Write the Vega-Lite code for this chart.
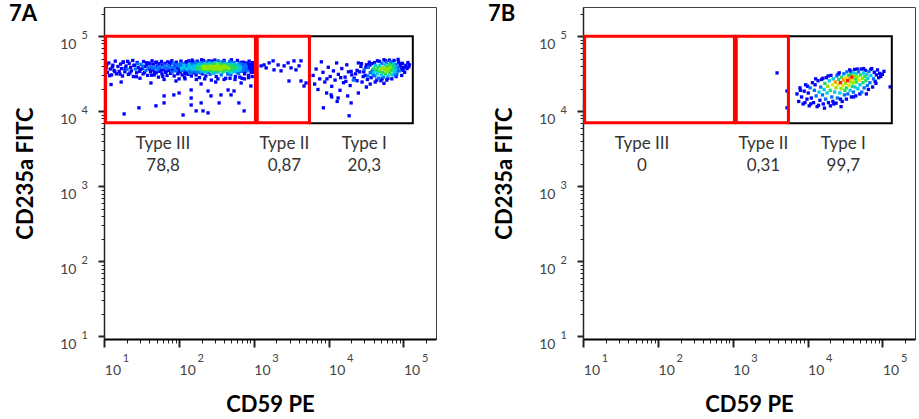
{
"$schema": "https://vega.github.io/schema/vega-lite/v6.json",
"padding": {"left": 8, "top": 2, "right": 4, "bottom": 0},
"background": "white",
"config": {
  "font": "Lato",
  "view": {"stroke": "#444", "strokeWidth": 1},
  "concat": {"spacing": 50},
  "axis": {"grid": false, "labelFont": "Lato", "titleFont": "Lato"}
},
"datasets": {
"gates": [
{"g":"Type III","x":10.4,"xe":1050,"y":7000,"ye":100000},
{"g":"Type II","x":1110,"xe":5530,"y":7000,"ye":100000},
{"g":"Type I","x":5530,"xe":133700,"y":6900,"ye":100000}
],
"labels": [
{"p":"A","t":"Type III\n78,8","x":61,"y":3170},
{"p":"A","t":"Type II\n0,87","x":2560,"y":3170},
{"p":"A","t":"Type I\n20,3","x":30000,"y":3170},
{"p":"B","t":"Type III\n0","x":61,"y":3170},
{"p":"B","t":"Type II\n0,31","x":2560,"y":3170},
{"p":"B","t":"Type I\n99,7","x":30000,"y":3170}
],
"pts": [
{"p":"A","x":10.6,"y":38000,"d":0},{"p":"A","x":11,"y":33000,"d":0},{"p":"A","x":11.5,"y":44000,"d":0},{"p":"A","x":12,"y":36500,"d":0},{"p":"A","x":12.5,"y":30500,"d":0},{"p":"A","x":13,"y":41000,"d":0},{"p":"A","x":13.5,"y":35000,"d":0},{"p":"A","x":14,"y":46500,"d":0},{"p":"A","x":14.5,"y":31500,"d":0},
{"p":"A","x":15.2,"y":39500,"d":0},{"p":"A","x":15.8,"y":34000,"d":0},{"p":"A","x":16.5,"y":42500,"d":0},{"p":"A","x":17,"y":37000,"d":0},{"p":"A","x":17.5,"y":29500,"d":0},{"p":"A","x":18,"y":45500,"d":0},{"p":"A","x":18.8,"y":33500,"d":0},{"p":"A","x":19.5,"y":40000,"d":0},{"p":"A","x":20.2,"y":36000,"d":1},{"p":"A","x":21,"y":31000,"d":0},{"p":"A","x":21.5,"y":43500,"d":0},{"p":"A","x":22.5,"y":38500,"d":0},{"p":"A","x":23,"y":34500,"d":0},{"p":"A","x":24,"y":47500,"d":0},{"p":"A","x":24.5,"y":29000,"d":0},
{"p":"A","x":25.5,"y":41000,"d":0},{"p":"A","x":26,"y":36500,"d":1},{"p":"A","x":27,"y":32500,"d":0},{"p":"A","x":27.5,"y":44500,"d":0},{"p":"A","x":28.5,"y":38000,"d":0},{"p":"A","x":29.5,"y":34000,"d":0},{"p":"A","x":30,"y":27500,"d":0},{"p":"A","x":31,"y":42000,"d":1},{"p":"A","x":32,"y":37000,"d":0},{"p":"A","x":33,"y":31500,"d":0},{"p":"A","x":33.5,"y":46000,"d":0},{"p":"A","x":35,"y":39500,"d":0},{"p":"A","x":36,"y":35000,"d":1},{"p":"A","x":37,"y":41500,"d":0},{"p":"A","x":38,"y":30000,"d":0},{"p":"A","x":39,"y":44000,"d":0},{"p":"A","x":40,"y":36500,"d":0},
{"p":"A","x":41.5,"y":33500,"d":0},{"p":"A","x":42.5,"y":39000,"d":1},{"p":"A","x":43.5,"y":47000,"d":0},{"p":"A","x":44.5,"y":35500,"d":0},{"p":"A","x":45.5,"y":42500,"d":0},{"p":"A","x":46.5,"y":30500,"d":0},{"p":"A","x":47.5,"y":37500,"d":1},{"p":"A","x":48.5,"y":44500,"d":0},{"p":"A","x":49.5,"y":32500,"d":0},{"p":"A","x":51,"y":40000,"d":0},{"p":"A","x":52,"y":36000,"d":1},{"p":"A","x":53,"y":28500,"d":0},{"p":"A","x":54,"y":43000,"d":0},{"p":"A","x":55,"y":34000,"d":0},{"p":"A","x":56.5,"y":38500,"d":1},{"p":"A","x":58,"y":46000,"d":0},{"p":"A","x":59,"y":31500,"d":0},{"p":"A","x":60,"y":41500,"d":0},{"p":"A","x":61.5,"y":35500,"d":0},{"p":"A","x":63,"y":39500,"d":1},{"p":"A","x":63,"y":26500,"d":0},
{"p":"A","x":65,"y":43500,"d":0},{"p":"A","x":66,"y":33000,"d":0},{"p":"A","x":67.5,"y":37000,"d":1},{"p":"A","x":69,"y":30000,"d":0},{"p":"A","x":70.5,"y":45500,"d":0},{"p":"A","x":72,"y":40500,"d":1},{"p":"A","x":73.5,"y":35000,"d":0},{"p":"A","x":75,"y":42000,"d":0},{"p":"A","x":77,"y":32000,"d":0},{"p":"A","x":78.5,"y":38500,"d":1},{"p":"A","x":80,"y":47000,"d":0},{"p":"A","x":82,"y":36000,"d":0},{"p":"A","x":84,"y":43500,"d":1},{"p":"A","x":86,"y":29500,"d":0},{"p":"A","x":88,"y":40000,"d":0},{"p":"A","x":90,"y":34500,"d":1},{"p":"A","x":92,"y":45000,"d":0},{"p":"A","x":94,"y":37500,"d":0},{"p":"A","x":96,"y":31500,"d":0},{"p":"A","x":98,"y":42000,"d":1},{"p":"A","x":100,"y":36000,"d":0},{"p":"A","x":100,"y":27000,"d":0},
{"p":"A","x":102,"y":39500,"d":1},{"p":"A","x":104,"y":33500,"d":0},{"p":"A","x":106,"y":46500,"d":0},{"p":"A","x":108,"y":37000,"d":2},{"p":"A","x":110,"y":30500,"d":0},{"p":"A","x":112,"y":43000,"d":1},{"p":"A","x":114,"y":35500,"d":1},{"p":"A","x":116,"y":41000,"d":2},{"p":"A","x":118,"y":28500,"d":0},{"p":"A","x":120,"y":38000,"d":1},{"p":"A","x":123,"y":44500,"d":0},{"p":"A","x":125,"y":33000,"d":0},{"p":"A","x":127,"y":36500,"d":2},{"p":"A","x":130,"y":40500,"d":1},{"p":"A","x":132,"y":31000,"d":0},{"p":"A","x":135,"y":47000,"d":0},{"p":"A","x":137,"y":38500,"d":2},{"p":"A","x":140,"y":34500,"d":1},{"p":"A","x":143,"y":42500,"d":1},{"p":"A","x":146,"y":29500,"d":0},{"p":"A","x":149,"y":37000,"d":2},{"p":"A","x":152,"y":45000,"d":0},{"p":"A","x":155,"y":32500,"d":0},{"p":"A","x":158,"y":40000,"d":2},{"p":"A","x":160,"y":35500,"d":1},
{"p":"A","x":163,"y":43000,"d":1},{"p":"A","x":166,"y":38500,"d":2},{"p":"A","x":169,"y":30500,"d":0},{"p":"A","x":172,"y":36500,"d":3},{"p":"A","x":175,"y":46500,"d":0},{"p":"A","x":178,"y":41000,"d":2},{"p":"A","x":181,"y":33500,"d":1},{"p":"A","x":184,"y":39000,"d":3},{"p":"A","x":187,"y":28000,"d":0},{"p":"A","x":190,"y":44000,"d":1},{"p":"A","x":194,"y":35500,"d":2},{"p":"A","x":197,"y":37500,"d":3},{"p":"A","x":200,"y":41500,"d":2},{"p":"A","x":204,"y":31500,"d":0},{"p":"A","x":208,"y":39500,"d":4},{"p":"A","x":212,"y":47500,"d":0},{"p":"A","x":216,"y":34500,"d":2},{"p":"A","x":220,"y":42500,"d":2},{"p":"A","x":224,"y":37000,"d":4},{"p":"A","x":228,"y":29500,"d":0},{"p":"A","x":232,"y":40500,"d":3},{"p":"A","x":236,"y":45500,"d":1},{"p":"A","x":240,"y":36000,"d":3},{"p":"A","x":245,"y":33000,"d":1},{"p":"A","x":250,"y":38500,"d":4},{"p":"A","x":255,"y":43500,"d":2},{"p":"A","x":260,"y":31000,"d":1},
{"p":"A","x":265,"y":40000,"d":4},{"p":"A","x":270,"y":35000,"d":3},{"p":"A","x":275,"y":46500,"d":0},{"p":"A","x":280,"y":37500,"d":4},{"p":"A","x":285,"y":42500,"d":3},{"p":"A","x":290,"y":32500,"d":1},{"p":"A","x":296,"y":39000,"d":4},{"p":"A","x":302,"y":44500,"d":2},{"p":"A","x":308,"y":35500,"d":3},{"p":"A","x":314,"y":29000,"d":0},{"p":"A","x":320,"y":41000,"d":4},{"p":"A","x":326,"y":37000,"d":4},{"p":"A","x":332,"y":47000,"d":1},{"p":"A","x":338,"y":33500,"d":2},{"p":"A","x":345,"y":39500,"d":4},{"p":"A","x":352,"y":43500,"d":3},{"p":"A","x":359,"y":36000,"d":4},{"p":"A","x":366,"y":30500,"d":1},{"p":"A","x":373,"y":41500,"d":3},{"p":"A","x":380,"y":38000,"d":4},{"p":"A","x":388,"y":45500,"d":1},{"p":"A","x":396,"y":34000,"d":3},{"p":"A","x":404,"y":40000,"d":4},{"p":"A","x":412,"y":36500,"d":3},{"p":"A","x":420,"y":27500,"d":0},{"p":"A","x":428,"y":43000,"d":2},{"p":"A","x":437,"y":38500,"d":4},{"p":"A","x":446,"y":32000,"d":1},
{"p":"A","x":455,"y":41500,"d":3},{"p":"A","x":464,"y":35000,"d":3},{"p":"A","x":473,"y":46000,"d":1},{"p":"A","x":483,"y":38000,"d":3},{"p":"A","x":493,"y":30500,"d":1},{"p":"A","x":503,"y":42500,"d":2},{"p":"A","x":513,"y":36000,"d":3},{"p":"A","x":523,"y":40000,"d":3},{"p":"A","x":534,"y":33500,"d":2},{"p":"A","x":545,"y":44500,"d":1},{"p":"A","x":556,"y":37500,"d":3},{"p":"A","x":567,"y":29000,"d":0},{"p":"A","x":579,"y":41000,"d":2},{"p":"A","x":591,"y":35000,"d":2},{"p":"A","x":603,"y":47500,"d":0},{"p":"A","x":615,"y":38500,"d":2},{"p":"A","x":627,"y":32000,"d":1},{"p":"A","x":640,"y":43000,"d":1},{"p":"A","x":653,"y":36500,"d":2},{"p":"A","x":666,"y":40500,"d":1},{"p":"A","x":680,"y":34000,"d":1},{"p":"A","x":694,"y":27500,"d":0},
{"p":"A","x":708,"y":39000,"d":1},{"p":"A","x":722,"y":45000,"d":0},{"p":"A","x":737,"y":36000,"d":1},{"p":"A","x":752,"y":31500,"d":0},{"p":"A","x":767,"y":41500,"d":1},{"p":"A","x":783,"y":37500,"d":0},{"p":"A","x":799,"y":44000,"d":0},{"p":"A","x":815,"y":34500,"d":1},{"p":"A","x":832,"y":39500,"d":0},{"p":"A","x":849,"y":30000,"d":0},{"p":"A","x":866,"y":46500,"d":0},{"p":"A","x":884,"y":37000,"d":0},{"p":"A","x":902,"y":42000,"d":0},{"p":"A","x":920,"y":33000,"d":0},{"p":"A","x":939,"y":38500,"d":0},{"p":"A","x":958,"y":44500,"d":0},{"p":"A","x":978,"y":35500,"d":0},{"p":"A","x":998,"y":40500,"d":0},{"p":"A","x":1018,"y":37500,"d":0},{"p":"A","x":1035,"y":43000,"d":0},
{"p":"A","x":111,"y":40000,"d":1},{"p":"A","x":119,"y":34000,"d":0},{"p":"A","x":128,"y":42000,"d":0},{"p":"A","x":138,"y":32500,"d":1},{"p":"A","x":147,"y":44000,"d":0},{"p":"A","x":156,"y":38000,"d":1},{"p":"A","x":165,"y":34000,"d":1},{"p":"A","x":174,"y":40000,"d":2},{"p":"A","x":183,"y":42500,"d":1},{"p":"A","x":192,"y":32500,"d":1},{"p":"A","x":201,"y":38500,"d":3},{"p":"A","x":210,"y":36000,"d":3},{"p":"A","x":219,"y":39500,"d":4},{"p":"A","x":229,"y":33500,"d":2},{"p":"A","x":238,"y":41500,"d":3},{"p":"A","x":248,"y":35500,"d":3},{"p":"A","x":258,"y":37500,"d":4},{"p":"A","x":268,"y":42500,"d":2},{"p":"A","x":278,"y":34000,"d":3},{"p":"A","x":288,"y":39000,"d":4},{"p":"A","x":298,"y":36000,"d":4},{"p":"A","x":311,"y":41500,"d":3},{"p":"A","x":323,"y":34500,"d":3},{"p":"A","x":336,"y":38000,"d":4},{"p":"A","x":349,"y":42000,"d":2},{"p":"A","x":362,"y":39000,"d":4},{"p":"A","x":376,"y":35000,"d":3},{"p":"A","x":391,"y":37500,"d":4},{"p":"A","x":407,"y":42500,"d":2},{"p":"A","x":423,"y":35500,"d":3},{"p":"A","x":441,"y":40500,"d":3},{"p":"A","x":459,"y":37500,"d":4},{"p":"A","x":478,"y":33000,"d":2},{"p":"A","x":498,"y":39500,"d":3},{"p":"A","x":518,"y":44000,"d":1},{"p":"A","x":540,"y":38500,"d":3},{"p":"A","x":562,"y":34000,"d":2},{"p":"A","x":585,"y":38000,"d":3},{"p":"A","x":610,"y":41500,"d":2},{"p":"A","x":635,"y":35500,"d":2},{"p":"A","x":660,"y":38500,"d":2},{"p":"A","x":688,"y":42000,"d":1},{"p":"A","x":715,"y":35000,"d":1},{"p":"A","x":745,"y":38500,"d":1},{"p":"A","x":775,"y":34500,"d":0},{"p":"A","x":805,"y":41000,"d":0},{"p":"A","x":840,"y":36000,"d":0},{"p":"A","x":875,"y":40000,"d":0},{"p":"A","x":910,"y":36500,"d":0},{"p":"A","x":950,"y":39000,"d":0},{"p":"A","x":990,"y":33000,"d":0},
{"p":"A","x":10.8,"y":42000,"d":0},{"p":"A","x":11.8,"y":29800,"d":0},{"p":"A","x":12.8,"y":38800,"d":0},{"p":"A","x":13.8,"y":33800,"d":0},{"p":"A","x":16.2,"y":31200,"d":0},{"p":"A","x":17.8,"y":44800,"d":0},{"p":"A","x":19,"y":37200,"d":0},{"p":"A","x":20.5,"y":46200,"d":0},{"p":"A","x":22,"y":32200,"d":0},{"p":"A","x":24.8,"y":40800,"d":0},{"p":"A","x":26.8,"y":28800,"d":0},{"p":"A","x":28,"y":42800,"d":1},{"p":"A","x":30.5,"y":35800,"d":0},{"p":"A","x":32.5,"y":39800,"d":1},{"p":"A","x":34.5,"y":32800,"d":0},{"p":"A","x":36.5,"y":44200,"d":0},{"p":"A","x":38.5,"y":38200,"d":1},{"p":"A","x":41,"y":42800,"d":0},{"p":"A","x":43,"y":30200,"d":0},{"p":"A","x":45,"y":37800,"d":1},{"p":"A","x":47,"y":33200,"d":0},{"p":"A","x":50,"y":45200,"d":0},{"p":"A","x":53.5,"y":39200,"d":1},{"p":"A","x":57,"y":35200,"d":0},{"p":"A","x":60.5,"y":29200,"d":0},{"p":"A","x":64,"y":41200,"d":1},{"p":"A","x":68,"y":34200,"d":0},{"p":"A","x":71,"y":38200,"d":1},{"p":"A","x":76,"y":44200,"d":0},{"p":"A","x":81,"y":33200,"d":1},{"p":"A","x":87,"y":37800,"d":1},{"p":"A","x":93,"y":41200,"d":1},{"p":"A","x":99,"y":32800,"d":0},{"p":"A","x":105,"y":42200,"d":1},{"p":"A","x":109,"y":34800,"d":1},{"p":"A","x":115,"y":38200,"d":2},{"p":"A","x":121,"y":31800,"d":0},{"p":"A","x":126,"y":45800,"d":0},{"p":"A","x":131,"y":35200,"d":1},{"p":"A","x":136,"y":41800,"d":2},{"p":"A","x":142,"y":37800,"d":2},{"p":"A","x":148,"y":33200,"d":1},{"p":"A","x":154,"y":42200,"d":1},{"p":"A","x":159,"y":36800,"d":2},{"p":"A","x":167,"y":45200,"d":1},{"p":"A","x":173,"y":33200,"d":1},{"p":"A","x":179,"y":37800,"d":3},{"p":"A","x":186,"y":42200,"d":2},{"p":"A","x":193,"y":38800,"d":3},{"p":"A","x":199,"y":34200,"d":2},{"p":"A","x":206,"y":44200,"d":1},{"p":"A","x":213,"y":37200,"d":4},{"p":"A","x":221,"y":33200,"d":2},{"p":"A","x":227,"y":40800,"d":3},{"p":"A","x":234,"y":36800,"d":4},{"p":"A","x":242,"y":39200,"d":4},{"p":"A","x":252,"y":35200,"d":3},{"p":"A","x":262,"y":44200,"d":1},{"p":"A","x":272,"y":38800,"d":4},{"p":"A","x":283,"y":32200,"d":2},{"p":"A","x":293,"y":41800,"d":3},{"p":"A","x":304,"y":37800,"d":4},{"p":"A","x":317,"y":33200,"d":2},{"p":"A","x":330,"y":40800,"d":4},{"p":"A","x":343,"y":36800,"d":4},{"p":"A","x":356,"y":45200,"d":1},{"p":"A","x":369,"y":37800,"d":4},{"p":"A","x":384,"y":33200,"d":2},{"p":"A","x":400,"y":38800,"d":4},{"p":"A","x":416,"y":41200,"d":3},{"p":"A","x":433,"y":36200,"d":3},{"p":"A","x":451,"y":31200,"d":1},{"p":"A","x":469,"y":39800,"d":3},{"p":"A","x":488,"y":43800,"d":1},{"p":"A","x":508,"y":35200,"d":2},{"p":"A","x":528,"y":38200,"d":3},{"p":"A","x":550,"y":41800,"d":2},{"p":"A","x":572,"y":36800,"d":2},{"p":"A","x":597,"y":32800,"d":1},{"p":"A","x":622,"y":39800,"d":2},{"p":"A","x":648,"y":34800,"d":1},{"p":"A","x":675,"y":44800,"d":0},{"p":"A","x":702,"y":37800,"d":1},{"p":"A","x":730,"y":41800,"d":0},{"p":"A","x":760,"y":33800,"d":0},{"p":"A","x":790,"y":38800,"d":1},{"p":"A","x":822,"y":42800,"d":0},{"p":"A","x":856,"y":36200,"d":0},{"p":"A","x":892,"y":39200,"d":0},{"p":"A","x":930,"y":34200,"d":0},{"p":"A","x":970,"y":41200,"d":0},{"p":"A","x":1010,"y":35800,"d":0},
{"p":"A","x":150,"y":48000,"d":0},{"p":"A","x":200,"y":48500,"d":0},{"p":"A","x":250,"y":47000,"d":0},{"p":"A","x":300,"y":48000,"d":0},{"p":"A","x":400,"y":47500,"d":0},{"p":"A","x":500,"y":48500,"d":0},{"p":"A","x":120,"y":27000,"d":0},{"p":"A","x":170,"y":26500,"d":0},{"p":"A","x":220,"y":27000,"d":0},{"p":"A","x":270,"y":26000,"d":0},{"p":"A","x":330,"y":27000,"d":0},{"p":"A","x":400,"y":26500,"d":0},{"p":"A","x":480,"y":27500,"d":0},{"p":"A","x":560,"y":26500,"d":0},{"p":"A","x":650,"y":28500,"d":0},{"p":"A","x":750,"y":27000,"d":0},{"p":"A","x":850,"y":28000,"d":0},{"p":"A","x":950,"y":29000,"d":0},
{"p":"A","x":12.3,"y":22700,"d":0},{"p":"A","x":18.4,"y":9200,"d":0},{"p":"A","x":29,"y":11100,"d":0},{"p":"A","x":49,"y":11800,"d":0},{"p":"A","x":63,"y":16000,"d":0},{"p":"A","x":63,"y":12900,"d":0},{"p":"A","x":85,"y":16500,"d":0},{"p":"A","x":100,"y":17500,"d":0},{"p":"A","x":113,"y":8900,"d":0},{"p":"A","x":145,"y":15000,"d":0},{"p":"A","x":145,"y":12100,"d":0},{"p":"A","x":169,"y":10100,"d":0},{"p":"A","x":197,"y":12900,"d":0},{"p":"A","x":209,"y":10100,"d":0},{"p":"A","x":244,"y":9500,"d":0},{"p":"A","x":267,"y":16000,"d":0},{"p":"A","x":343,"y":12900,"d":0},{"p":"A","x":363,"y":16500,"d":0},{"p":"A","x":495,"y":16500,"d":0},{"p":"A","x":631,"y":12900,"d":0},{"p":"A","x":741,"y":10100,"d":0},{"p":"A","x":145,"y":19200,"d":0},{"p":"A","x":244,"y":18600,"d":0},{"p":"A","x":452,"y":19200,"d":0},{"p":"A","x":543,"y":18600,"d":0},{"p":"A","x":16.8,"y":24500,"d":0},{"p":"A","x":42,"y":23800,"d":0},{"p":"A","x":91,"y":25300,"d":0},{"p":"A","x":197,"y":23100,"d":0},{"p":"A","x":309,"y":24500,"d":0},{"p":"A","x":676,"y":23800,"d":0},{"p":"A","x":912,"y":21700,"d":0},
{"p":"A","x":1250,"y":40200,"d":0},{"p":"A","x":1460,"y":37800,"d":0},{"p":"A","x":1600,"y":44100,"d":0},{"p":"A","x":1810,"y":46900,"d":0},{"p":"A","x":1860,"y":35600,"d":0},{"p":"A","x":2110,"y":41400,"d":0},{"p":"A","x":2310,"y":34500,"d":0},{"p":"A","x":2870,"y":44100,"d":0},{"p":"A","x":2950,"y":25300,"d":0},{"p":"A","x":3140,"y":37800,"d":0},{"p":"A","x":3440,"y":46900,"d":0},{"p":"A","x":4020,"y":40200,"d":0},{"p":"A","x":4270,"y":46900,"d":0},{"p":"A","x":4270,"y":25300,"d":0},{"p":"A","x":4690,"y":21700,"d":0},{"p":"A","x":4990,"y":23800,"d":0},{"p":"A","x":1370,"y":41400,"d":0},{"p":"A","x":2540,"y":40200,"d":0},{"p":"A","x":3660,"y":35600,"d":0},
{"p":"A","x":40000,"y":33000,"d":2},{"p":"A","x":40500,"y":37500,"d":3},{"p":"A","x":41500,"y":29500,"d":1},{"p":"A","x":42500,"y":41000,"d":2},{"p":"A","x":43500,"y":35000,"d":3},{"p":"A","x":44500,"y":31500,"d":2},{"p":"A","x":45500,"y":38500,"d":3},{"p":"A","x":46500,"y":27500,"d":1},{"p":"A","x":47500,"y":34000,"d":3},{"p":"A","x":48500,"y":40500,"d":2},{"p":"A","x":49500,"y":36500,"d":4},{"p":"A","x":50500,"y":30500,"d":2},{"p":"A","x":51500,"y":43500,"d":1},{"p":"A","x":52500,"y":33000,"d":3},{"p":"A","x":53500,"y":38000,"d":4},{"p":"A","x":54500,"y":28500,"d":1},{"p":"A","x":55500,"y":35500,"d":4},{"p":"A","x":56500,"y":41500,"d":2},{"p":"A","x":57500,"y":31500,"d":3},{"p":"A","x":58500,"y":37000,"d":4},{"p":"A","x":59500,"y":44500,"d":1},{"p":"A","x":60500,"y":34000,"d":4},{"p":"A","x":61500,"y":39500,"d":3},{"p":"A","x":62500,"y":29500,"d":2},{"p":"A","x":63500,"y":36000,"d":4},{"p":"A","x":64500,"y":42000,"d":3},{"p":"A","x":65500,"y":32500,"d":3},{"p":"A","x":66500,"y":38500,"d":4},{"p":"A","x":67500,"y":45500,"d":1},{"p":"A","x":68500,"y":35000,"d":3},{"p":"A","x":69500,"y":40500,"d":3},{"p":"A","x":70500,"y":30500,"d":2},{"p":"A","x":72000,"y":37500,"d":3},{"p":"A","x":73500,"y":43000,"d":2},{"p":"A","x":75000,"y":33500,"d":2},{"p":"A","x":76500,"y":39500,"d":2},{"p":"A","x":78000,"y":36000,"d":2},{"p":"A","x":80000,"y":42000,"d":1},{"p":"A","x":82000,"y":31500,"d":1},{"p":"A","x":84000,"y":38000,"d":1},{"p":"A","x":86000,"y":45000,"d":0},{"p":"A","x":88000,"y":34500,"d":1},{"p":"A","x":91000,"y":40000,"d":0},{"p":"A","x":94000,"y":36500,"d":0},{"p":"A","x":97000,"y":43500,"d":0},{"p":"A","x":100000,"y":38500,"d":0},{"p":"A","x":104000,"y":33000,"d":0},{"p":"A","x":108000,"y":41000,"d":0},{"p":"A","x":112000,"y":37000,"d":0},
{"p":"A","x":30000,"y":36000,"d":1},{"p":"A","x":31000,"y":30000,"d":0},{"p":"A","x":32000,"y":41500,"d":0},{"p":"A","x":33000,"y":26500,"d":0},{"p":"A","x":34000,"y":38500,"d":1},{"p":"A","x":35000,"y":45000,"d":0},{"p":"A","x":36000,"y":32500,"d":1},{"p":"A","x":37000,"y":28000,"d":0},{"p":"A","x":38000,"y":43000,"d":0},{"p":"A","x":39000,"y":35500,"d":1},{"p":"A","x":26000,"y":33500,"d":0},{"p":"A","x":27000,"y":39500,"d":0},{"p":"A","x":28000,"y":24500,"d":0},{"p":"A","x":29000,"y":29000,"d":0},{"p":"A","x":24000,"y":35000,"d":0},{"p":"A","x":25000,"y":44000,"d":0},{"p":"A","x":22000,"y":27500,"d":0},{"p":"A","x":23000,"y":31500,"d":0},{"p":"A","x":45000,"y":47000,"d":0},{"p":"A","x":55000,"y":48500,"d":0},{"p":"A","x":65000,"y":48000,"d":0},{"p":"A","x":75000,"y":47500,"d":0},{"p":"A","x":85000,"y":49000,"d":0},{"p":"A","x":50000,"y":25500,"d":0},{"p":"A","x":60000,"y":26000,"d":0},{"p":"A","x":70000,"y":27000,"d":0},{"p":"A","x":42000,"y":24500,"d":0},{"p":"A","x":55000,"y":23500,"d":0},{"p":"A","x":36000,"y":23000,"d":0},{"p":"A","x":80000,"y":29000,"d":0},{"p":"A","x":95000,"y":30000,"d":0},{"p":"A","x":115000,"y":44500,"d":0},{"p":"A","x":118000,"y":39000,"d":0},{"p":"A","x":120000,"y":41500,"d":0},
{"p":"A","x":27500,"y":43000,"d":0},{"p":"A","x":29500,"y":33500,"d":0},{"p":"A","x":31500,"y":38500,"d":0},{"p":"A","x":33500,"y":29500,"d":1},{"p":"A","x":35500,"y":41000,"d":0},{"p":"A","x":37500,"y":33500,"d":1},{"p":"A","x":39500,"y":30500,"d":1},{"p":"A","x":41000,"y":44500,"d":0},{"p":"A","x":44000,"y":26000,"d":0},{"p":"A","x":48000,"y":46000,"d":0},{"p":"A","x":52000,"y":27000,"d":0},{"p":"A","x":58000,"y":47000,"d":0},{"p":"A","x":62000,"y":27500,"d":0},{"p":"A","x":71000,"y":45000,"d":0},{"p":"A","x":77000,"y":30500,"d":1},{"p":"A","x":83000,"y":35000,"d":1},{"p":"A","x":90000,"y":43000,"d":0},{"p":"A","x":99000,"y":35000,"d":0},{"p":"A","x":106000,"y":38500,"d":0},{"p":"A","x":24000,"y":25500,"d":0},{"p":"A","x":20000,"y":34000,"d":0},{"p":"A","x":17000,"y":25000,"d":0},{"p":"A","x":14500,"y":28000,"d":0},{"p":"A","x":9500,"y":27000,"d":0},
{"p":"A","x":6200,"y":30000,"d":0},{"p":"A","x":6500,"y":23000,"d":0},{"p":"A","x":6800,"y":36500,"d":0},{"p":"A","x":7200,"y":19500,"d":0},{"p":"A","x":7600,"y":27000,"d":0},{"p":"A","x":8000,"y":45500,"d":0},{"p":"A","x":8400,"y":33000,"d":0},{"p":"A","x":8900,"y":24500,"d":0},{"p":"A","x":9400,"y":17500,"d":0},{"p":"A","x":9900,"y":38500,"d":0},{"p":"A","x":10500,"y":29000,"d":0},{"p":"A","x":11000,"y":21500,"d":0},{"p":"A","x":11600,"y":34500,"d":0},{"p":"A","x":12200,"y":26000,"d":0},{"p":"A","x":12800,"y":44000,"d":0},{"p":"A","x":13500,"y":31000,"d":0},{"p":"A","x":14200,"y":19000,"d":0},{"p":"A","x":15000,"y":37000,"d":0},{"p":"A","x":15800,"y":24000,"d":0},{"p":"A","x":16600,"y":28500,"d":0},{"p":"A","x":17500,"y":41500,"d":0},{"p":"A","x":18400,"y":33500,"d":0},{"p":"A","x":19400,"y":22000,"d":0},{"p":"A","x":20400,"y":30500,"d":0},{"p":"A","x":21400,"y":26000,"d":1},{"p":"A","x":18000,"y":16000,"d":0},{"p":"A","x":13000,"y":13500,"d":0},{"p":"A","x":11000,"y":15500,"d":0},
{"p":"A","x":8500,"y":11100,"d":0},{"p":"A","x":20000,"y":12900,"d":0},{"p":"A","x":18800,"y":8700,"d":0},{"p":"A","x":13400,"y":15000,"d":0},{"p":"A","x":10800,"y":16500,"d":0},{"p":"A","x":25000,"y":17500,"d":0},{"p":"A","x":32000,"y":21000,"d":0},

{"p":"B","x":7200,"y":17000,"d":0},{"p":"B","x":7600,"y":13500,"d":0},{"p":"B","x":7900,"y":20500,"d":0},{"p":"B","x":8300,"y":15500,"d":0},{"p":"B","x":8700,"y":12500,"d":0},{"p":"B","x":9000,"y":18500,"d":0},{"p":"B","x":9400,"y":22500,"d":0},{"p":"B","x":9800,"y":14500,"d":0},{"p":"B","x":10200,"y":17500,"d":0},{"p":"B","x":10500,"y":11800,"d":0},{"p":"B","x":10800,"y":20500,"d":1},{"p":"B","x":11200,"y":15000,"d":0},{"p":"B","x":11600,"y":24000,"d":0},
{"p":"B","x":12000,"y":13000,"d":0},{"p":"B","x":12300,"y":19000,"d":1},{"p":"B","x":12600,"y":22500,"d":0},{"p":"B","x":13000,"y":16000,"d":1},{"p":"B","x":13400,"y":11500,"d":0},{"p":"B","x":13800,"y":25500,"d":0},{"p":"B","x":14200,"y":18000,"d":2},{"p":"B","x":14600,"y":14000,"d":0},{"p":"B","x":15000,"y":21000,"d":1},{"p":"B","x":15400,"y":26500,"d":0},{"p":"B","x":15800,"y":16500,"d":1},{"p":"B","x":16200,"y":12500,"d":0},
{"p":"B","x":16600,"y":19500,"d":2},{"p":"B","x":17000,"y":23500,"d":3},{"p":"B","x":17400,"y":14500,"d":1},{"p":"B","x":17800,"y":28000,"d":0},{"p":"B","x":18200,"y":17500,"d":2},{"p":"B","x":18600,"y":21500,"d":4},{"p":"B","x":19000,"y":13000,"d":0},{"p":"B","x":19500,"y":25500,"d":2},{"p":"B","x":20000,"y":19000,"d":3},{"p":"B","x":20500,"y":30000,"d":0},{"p":"B","x":21000,"y":15500,"d":1},{"p":"B","x":21500,"y":22500,"d":5},{"p":"B","x":22000,"y":27000,"d":2},{"p":"B","x":22400,"y":12500,"d":0},{"p":"B","x":16800,"y":11000,"d":0},{"p":"B","x":20200,"y":11800,"d":0},
{"p":"B","x":23000,"y":18000,"d":2},{"p":"B","x":23500,"y":24500,"d":6},{"p":"B","x":24000,"y":20500,"d":4},{"p":"B","x":24500,"y":29500,"d":1},{"p":"B","x":25000,"y":15000,"d":1},{"p":"B","x":25500,"y":22500,"d":5},{"p":"B","x":26000,"y":26500,"d":3},{"p":"B","x":26500,"y":32500,"d":0},{"p":"B","x":27000,"y":17500,"d":2},{"p":"B","x":27500,"y":24000,"d":7},{"p":"B","x":28000,"y":20000,"d":4},{"p":"B","x":28500,"y":28500,"d":3},{"p":"B","x":29000,"y":13500,"d":0},{"p":"B","x":29500,"y":22000,"d":5},{"p":"B","x":30000,"y":26000,"d":6},{"p":"B","x":30500,"y":31500,"d":1},{"p":"B","x":31000,"y":16500,"d":1},{"p":"B","x":31500,"y":19000,"d":3},{"p":"B","x":24000,"y":12800,"d":0},{"p":"B","x":28000,"y":11500,"d":0},
{"p":"B","x":32000,"y":23500,"d":4},{"p":"B","x":32500,"y":28000,"d":5},{"p":"B","x":33000,"y":20500,"d":3},{"p":"B","x":33500,"y":33500,"d":1},{"p":"B","x":34000,"y":25500,"d":7},{"p":"B","x":34500,"y":17000,"d":1},{"p":"B","x":35000,"y":30000,"d":3},{"p":"B","x":35500,"y":22000,"d":5},{"p":"B","x":36000,"y":27000,"d":6},{"p":"B","x":36500,"y":35500,"d":0},{"p":"B","x":37000,"y":19000,"d":2},{"p":"B","x":37500,"y":24500,"d":4},{"p":"B","x":38000,"y":31000,"d":3},{"p":"B","x":38500,"y":15500,"d":0},{"p":"B","x":39000,"y":28500,"d":7},{"p":"B","x":39500,"y":21500,"d":3},{"p":"B","x":40000,"y":26000,"d":5},{"p":"B","x":40500,"y":33000,"d":2},{"p":"B","x":41000,"y":18000,"d":1},{"p":"B","x":41500,"y":24000,"d":4},{"p":"B","x":42000,"y":29500,"d":4},{"p":"B","x":42500,"y":36000,"d":0},{"p":"B","x":43000,"y":21000,"d":2},{"p":"B","x":43500,"y":27000,"d":3},{"p":"B","x":44000,"y":16000,"d":0},{"p":"B","x":44500,"y":31500,"d":2},
{"p":"B","x":45000,"y":24500,"d":3},{"p":"B","x":46000,"y":28500,"d":4},{"p":"B","x":47000,"y":20000,"d":2},{"p":"B","x":48000,"y":33500,"d":1},{"p":"B","x":49000,"y":26000,"d":5},{"p":"B","x":50000,"y":22500,"d":2},{"p":"B","x":51000,"y":30500,"d":3},{"p":"B","x":52000,"y":36500,"d":0},{"p":"B","x":53000,"y":18000,"d":1},{"p":"B","x":54000,"y":27500,"d":4},{"p":"B","x":55000,"y":24000,"d":3},{"p":"B","x":56000,"y":32500,"d":2},{"p":"B","x":57000,"y":20500,"d":1},{"p":"B","x":58000,"y":29000,"d":3},{"p":"B","x":59000,"y":35000,"d":0},{"p":"B","x":60000,"y":25500,"d":3},{"p":"B","x":61000,"y":17000,"d":0},{"p":"B","x":62000,"y":31000,"d":2},{"p":"B","x":63000,"y":22000,"d":1},
{"p":"B","x":64000,"y":27500,"d":2},{"p":"B","x":66000,"y":34000,"d":1},{"p":"B","x":68000,"y":24000,"d":1},{"p":"B","x":70000,"y":30000,"d":2},{"p":"B","x":72000,"y":37000,"d":0},{"p":"B","x":74000,"y":21000,"d":0},{"p":"B","x":76000,"y":27000,"d":1},{"p":"B","x":78000,"y":33000,"d":0},{"p":"B","x":80000,"y":25000,"d":0},{"p":"B","x":83000,"y":30500,"d":0},{"p":"B","x":86000,"y":35500,"d":0},{"p":"B","x":89000,"y":28000,"d":0},{"p":"B","x":92000,"y":32000,"d":0},{"p":"B","x":100000,"y":31000,"d":0},{"p":"B","x":127000,"y":21100,"d":0},
{"p":"B","x":8000,"y":19000,"d":0},{"p":"B","x":9200,"y":13000,"d":0},{"p":"B","x":10000,"y":21500,"d":0},{"p":"B","x":11000,"y":12500,"d":0},{"p":"B","x":12800,"y":27000,"d":0},{"p":"B","x":14000,"y":12000,"d":0},{"p":"B","x":16000,"y":27500,"d":0},{"p":"B","x":18800,"y":29500,"d":0},{"p":"B","x":21800,"y":13500,"d":0},{"p":"B","x":25500,"y":31000,"d":0},{"p":"B","x":27500,"y":14500,"d":0},{"p":"B","x":33000,"y":14500,"d":0},{"p":"B","x":38000,"y":34000,"d":0},{"p":"B","x":41000,"y":15500,"d":0},{"p":"B","x":46000,"y":36500,"d":0},{"p":"B","x":50000,"y":17000,"d":0},{"p":"B","x":56000,"y":37000,"d":0},{"p":"B","x":65000,"y":19500,"d":0},{"p":"B","x":70000,"y":36000,"d":0},{"p":"B","x":82000,"y":23500,"d":0},{"p":"B","x":95000,"y":29000,"d":0},{"p":"B","x":105000,"y":34000,"d":0},
{"p":"B","x":3900,"y":32400,"d":0},{"p":"B","x":5300,"y":18600,"d":0},{"p":"B","x":5300,"y":11100,"d":0}
]
},
"hconcat": [
{
 "width": 332, "height": 332,
 "title": {"text": "7A", "anchor": "start", "frame": "group", "fontSize": 22, "fontWeight": "bold", "color": "#000", "baseline": "alphabetic", "offset": 0, "dx": -95, "dy": 36},
 "resolve": {"axis": {"x": "independent", "y": "independent"}},
 "layer": [
  {"data": {"name": "pts"}, "transform": [{"filter": "datum.p === 'A'"}],
   "mark": {"type": "square", "size": 11, "opacity": 1},
   "encoding": {
    "x": {"field": "x", "type": "quantitative", "scale": {"type": "log", "domain": [9.9, 273000], "nice": false},
     "axis": {"orient": "bottom", "title": "CD59 PE", "titleFontSize": 22, "titleFontWeight": "bold", "titleColor": "#000", "titlePadding": 17,
      "values": [10,20,30,40,50,60,70,80,90,100,200,300,400,500,600,700,800,900,1000,2000,3000,4000,5000,6000,7000,8000,9000,10000,20000,30000,40000,50000,60000,70000,80000,90000,100000,200000],
      "labelExpr": "indexof([10,100,1000,10000,100000], datum.value) >= 0 ? '10' : ''",
      "labelAlign": "left", "labelBaseline": "alphabetic", "labelPadding": 27, "labelFontSize": 14, "labelColor": "#444", "labelFlush": false, "labelOverlap": false, "labelBound": false,
      "tickSize": {"condition": {"test": "indexof([10,100,1000,10000,100000], datum.value) >= 0", "value": 8}, "value": 4},
      "tickWidth": {"condition": {"test": "indexof([10,100,1000,10000,100000], datum.value) >= 0", "value": 2}, "value": 1},
      "tickColor": "#222", "domainColor": "#000", "domainWidth": 2}},
    "y": {"field": "y", "type": "quantitative", "scale": {"type": "log", "domain": [9.2, 245000], "nice": false},
     "axis": {"orient": "left", "title": "CD235a FITC", "titleFontSize": 22, "titleFontWeight": "bold", "titleColor": "#000", "titlePadding": 22,
      "values": [10,20,30,40,50,60,70,80,90,100,200,300,400,500,600,700,800,900,1000,2000,3000,4000,5000,6000,7000,8000,9000,10000,20000,30000,40000,50000,60000,70000,80000,90000,100000,200000],
      "labelExpr": "indexof([10,100,1000,10000,100000], datum.value) >= 0 ? '10' : ''",
      "labelAlign": "right", "labelBaseline": "alphabetic", "labelOffset": 12, "labelPadding": 22, "labelFontSize": 14, "labelColor": "#444", "labelFlush": false, "labelOverlap": false, "labelBound": false,
      "tickSize": {"condition": {"test": "indexof([10,100,1000,10000,100000], datum.value) >= 0", "value": 6}, "value": 3},
      "tickWidth": {"condition": {"test": "indexof([10,100,1000,10000,100000], datum.value) >= 0", "value": 2}, "value": 1},
      "tickColor": "#222", "domainColor": "#222", "domainWidth": 1.5}},
    "color": {"field": "d", "type": "ordinal", "scale": {"domain": [0,1,2,3,4,5,6,7], "range": ["#0000ff","#0070ff","#00c8e6","#20dc60","#8ce600","#e6e600","#ff9600","#ff1e00"]}, "legend": null},
    "order": {"field": "d"}}},
  {"data": {"name": "gates"}, "transform": [{"filter": "datum.g === 'Type I'"}],
   "mark": {"type": "rect", "filled": false, "stroke": "#000", "strokeWidth": 2},
   "encoding": {"x": {"field": "x", "type": "quantitative", "scale": {"type": "log", "domain": [9.9, 273000], "nice": false}, "axis": null},
    "x2": {"field": "xe"},
    "y": {"field": "y", "type": "quantitative", "scale": {"type": "log", "domain": [9.2, 245000], "nice": false}, "axis": null},
    "y2": {"field": "ye"}}},
  {"data": {"name": "gates"}, "transform": [{"filter": "datum.g !== 'Type I'"}],
   "mark": {"type": "rect", "filled": false, "stroke": "#ff0000", "strokeWidth": 3},
   "encoding": {"x": {"field": "x", "type": "quantitative", "scale": {"type": "log", "domain": [9.9, 273000], "nice": false}, "axis": null},
    "x2": {"field": "xe"},
    "y": {"field": "y", "type": "quantitative", "scale": {"type": "log", "domain": [9.2, 245000], "nice": false}, "axis": null},
    "y2": {"field": "ye"}}},
  {"data": {"name": "labels"}, "transform": [{"filter": "datum.p === 'A'"}],
   "mark": {"type": "text", "lineBreak": "\n", "fontSize": 17, "color": "#333", "align": "center", "baseline": "alphabetic", "lineHeight": 22},
   "encoding": {
    "x": {"field": "x", "type": "quantitative", "scale": {"type": "log", "domain": [9.9, 273000], "nice": false},
     "axis": {"orient": "bottom", "title": null, "values": [10,100,1000,10000,100000],
      "labelExpr": "datum.value == 10 ? '1' : datum.value == 100 ? '2' : datum.value == 1000 ? '3' : datum.value == 10000 ? '4' : '5'",
      "domain": false, "ticks": false, "tickSize": 0, "labelAlign": "left", "labelBaseline": "middle", "labelPadding": 19, "labelOffset": 18, "labelFontSize": 11, "labelColor": "#444", "labelFlush": false, "labelOverlap": false, "labelBound": false}},
    "y": {"field": "y", "type": "quantitative", "scale": {"type": "log", "domain": [9.2, 245000], "nice": false},
     "axis": {"orient": "left", "title": null, "values": [10,100,1000,10000,100000],
      "labelExpr": "datum.value == 10 ? '1' : datum.value == 100 ? '2' : datum.value == 1000 ? '3' : datum.value == 10000 ? '4' : '5'",
      "domain": false, "ticks": false, "tickSize": 0, "labelAlign": "left", "labelBaseline": "middle", "labelPadding": 23, "labelOffset": -1, "labelFontSize": 11, "labelColor": "#444", "labelFlush": false, "labelOverlap": false, "labelBound": false}},
    "text": {"field": "t", "type": "nominal"}}}
 ]
},
{
 "width": 332, "height": 332,
 "title": {"text": "7B", "anchor": "start", "frame": "group", "fontSize": 22, "fontWeight": "bold", "color": "#000", "baseline": "alphabetic", "offset": 0, "dx": -95, "dy": 36},
 "resolve": {"axis": {"x": "independent", "y": "independent"}},
 "layer": [
  {"data": {"name": "pts"}, "transform": [{"filter": "datum.p === 'B'"}],
   "mark": {"type": "square", "size": 11, "opacity": 1},
   "encoding": {
    "x": {"field": "x", "type": "quantitative", "scale": {"type": "log", "domain": [9.9, 273000], "nice": false},
     "axis": {"orient": "bottom", "title": "CD59 PE", "titleFontSize": 22, "titleFontWeight": "bold", "titleColor": "#000", "titlePadding": 17,
      "values": [10,20,30,40,50,60,70,80,90,100,200,300,400,500,600,700,800,900,1000,2000,3000,4000,5000,6000,7000,8000,9000,10000,20000,30000,40000,50000,60000,70000,80000,90000,100000,200000],
      "labelExpr": "indexof([10,100,1000,10000,100000], datum.value) >= 0 ? '10' : ''",
      "labelAlign": "left", "labelBaseline": "alphabetic", "labelPadding": 27, "labelFontSize": 14, "labelColor": "#444", "labelFlush": false, "labelOverlap": false, "labelBound": false,
      "tickSize": {"condition": {"test": "indexof([10,100,1000,10000,100000], datum.value) >= 0", "value": 8}, "value": 4},
      "tickWidth": {"condition": {"test": "indexof([10,100,1000,10000,100000], datum.value) >= 0", "value": 2}, "value": 1},
      "tickColor": "#222", "domainColor": "#000", "domainWidth": 2}},
    "y": {"field": "y", "type": "quantitative", "scale": {"type": "log", "domain": [9.2, 245000], "nice": false},
     "axis": {"orient": "left", "title": "CD235a FITC", "titleFontSize": 22, "titleFontWeight": "bold", "titleColor": "#000", "titlePadding": 22,
      "values": [10,20,30,40,50,60,70,80,90,100,200,300,400,500,600,700,800,900,1000,2000,3000,4000,5000,6000,7000,8000,9000,10000,20000,30000,40000,50000,60000,70000,80000,90000,100000,200000],
      "labelExpr": "indexof([10,100,1000,10000,100000], datum.value) >= 0 ? '10' : ''",
      "labelAlign": "right", "labelBaseline": "alphabetic", "labelOffset": 12, "labelPadding": 22, "labelFontSize": 14, "labelColor": "#444", "labelFlush": false, "labelOverlap": false, "labelBound": false,
      "tickSize": {"condition": {"test": "indexof([10,100,1000,10000,100000], datum.value) >= 0", "value": 6}, "value": 3},
      "tickWidth": {"condition": {"test": "indexof([10,100,1000,10000,100000], datum.value) >= 0", "value": 2}, "value": 1},
      "tickColor": "#222", "domainColor": "#222", "domainWidth": 1.5}},
    "color": {"field": "d", "type": "ordinal", "scale": {"domain": [0,1,2,3,4,5,6,7], "range": ["#0000ff","#0070ff","#00c8e6","#20dc60","#8ce600","#e6e600","#ff9600","#ff1e00"]}, "legend": null},
    "order": {"field": "d"}}},
  {"data": {"name": "gates"}, "transform": [{"filter": "datum.g === 'Type I'"}],
   "mark": {"type": "rect", "filled": false, "stroke": "#000", "strokeWidth": 2},
   "encoding": {"x": {"field": "x", "type": "quantitative", "scale": {"type": "log", "domain": [9.9, 273000], "nice": false}, "axis": null},
    "x2": {"field": "xe"},
    "y": {"field": "y", "type": "quantitative", "scale": {"type": "log", "domain": [9.2, 245000], "nice": false}, "axis": null},
    "y2": {"field": "ye"}}},
  {"data": {"name": "gates"}, "transform": [{"filter": "datum.g !== 'Type I'"}],
   "mark": {"type": "rect", "filled": false, "stroke": "#ff0000", "strokeWidth": 3},
   "encoding": {"x": {"field": "x", "type": "quantitative", "scale": {"type": "log", "domain": [9.9, 273000], "nice": false}, "axis": null},
    "x2": {"field": "xe"},
    "y": {"field": "y", "type": "quantitative", "scale": {"type": "log", "domain": [9.2, 245000], "nice": false}, "axis": null},
    "y2": {"field": "ye"}}},
  {"data": {"name": "labels"}, "transform": [{"filter": "datum.p === 'B'"}],
   "mark": {"type": "text", "lineBreak": "\n", "fontSize": 17, "color": "#333", "align": "center", "baseline": "alphabetic", "lineHeight": 22},
   "encoding": {
    "x": {"field": "x", "type": "quantitative", "scale": {"type": "log", "domain": [9.9, 273000], "nice": false},
     "axis": {"orient": "bottom", "title": null, "values": [10,100,1000,10000,100000],
      "labelExpr": "datum.value == 10 ? '1' : datum.value == 100 ? '2' : datum.value == 1000 ? '3' : datum.value == 10000 ? '4' : '5'",
      "domain": false, "ticks": false, "tickSize": 0, "labelAlign": "left", "labelBaseline": "middle", "labelPadding": 19, "labelOffset": 18, "labelFontSize": 11, "labelColor": "#444", "labelFlush": false, "labelOverlap": false, "labelBound": false}},
    "y": {"field": "y", "type": "quantitative", "scale": {"type": "log", "domain": [9.2, 245000], "nice": false},
     "axis": {"orient": "left", "title": null, "values": [10,100,1000,10000,100000],
      "labelExpr": "datum.value == 10 ? '1' : datum.value == 100 ? '2' : datum.value == 1000 ? '3' : datum.value == 10000 ? '4' : '5'",
      "domain": false, "ticks": false, "tickSize": 0, "labelAlign": "left", "labelBaseline": "middle", "labelPadding": 23, "labelOffset": -1, "labelFontSize": 11, "labelColor": "#444", "labelFlush": false, "labelOverlap": false, "labelBound": false}},
    "text": {"field": "t", "type": "nominal"}}}
 ]
}
]
}
